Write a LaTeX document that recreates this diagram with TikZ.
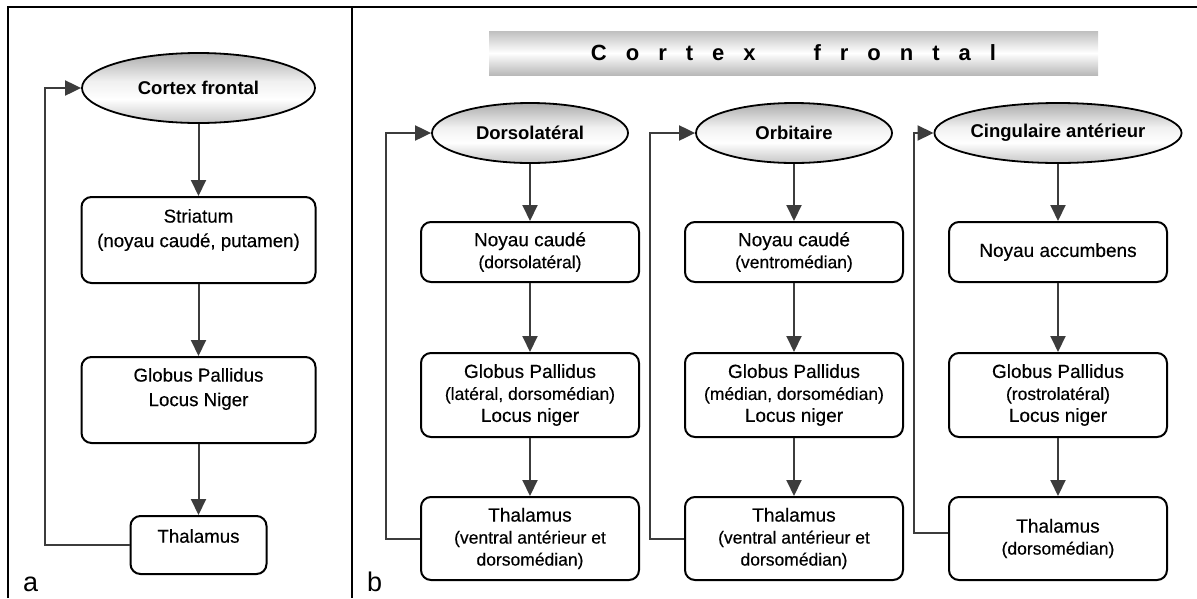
\documentclass[tikz,border=0pt]{standalone}
\usepackage{fontspec}
\setmainfont{Liberation Sans}
\newfontfamily\boxfont{Liberation Sans}[FakeBold=0.35]
\usetikzlibrary{arrows.meta,shapes.geometric,calc}
\definecolor{linegray}{HTML}{3C3C3C}
\pgfdeclareverticalshading{ellshade}{100bp}{color(0bp)=(gray!45); color(25bp)=(gray!45); color(42bp)=(white); color(55bp)=(gray!12); color(75bp)=(gray!65); color(100bp)=(gray!65)}
\newcommand{\mainfs}{\boxfont\fontsize{19}{22}\selectfont}
\newcommand{\subfs}{\boxfont\fontsize{17.5}{22}\selectfont}
\newcommand{\afs}{\boxfont\fontsize{18.7}{24.5}\selectfont}
\newcommand{\lsp}{\hspace{19pt}}
\tikzset{
  boxnode/.style={draw=black, line width=2pt, rounded corners=10pt, fill=white, inner sep=0pt, align=center, font=\mainfs},
  ellnode/.style={ellipse, draw=black, line width=1.8pt, shade, shading=ellshade, inner sep=0pt, font=\bfseries\fontsize{18.5}{22}\selectfont},
  arr/.style={draw=linegray, line width=2pt, -{Triangle[length=16pt,width=15pt]}},
  alabel/.style={align=center, font=\afs},
  panellabel/.style={anchor=base west, inner sep=0pt, font=\fontsize{27}{30}\selectfont}
}
\begin{document}
\begin{tikzpicture}[x=1pt,y=-1pt]
\useasboundingbox (0,0) rectangle (1197,598);
% frame
\draw[line width=2.2pt] (8,598) -- (8,7) -- (1197,7);
\draw[line width=2.2pt] (352,7) -- (352,598);
\node[panellabel] (la) at (23,591) {a};
\node[panellabel] (lb) at (367,591) {b};

% ---------- panel a ----------
\node[ellnode, minimum width=233pt, minimum height=70pt] (aE) at (198.5,88) {Cortex frontal};
\node[boxnode, minimum width=234pt, minimum height=86pt,
  label={[name=aSt, alabel, yshift=10pt]center:Striatum\\(noyau caudé, putamen)}] (aS) at (198.5,240) {};
\node[boxnode, minimum width=234pt, minimum height=86pt,
  label={[name=aGt, alabel, yshift=11pt]center:Globus Pallidus\\Locus Niger}] (aG) at (198.5,400) {};
\node[boxnode, minimum width=136pt, minimum height=58pt,
  label={[name=aTt, alabel, yshift=9pt]center:Thalamus}] (aT) at (198.5,545) {};
\coordinate (fa) at (45,0);
\draw[arr] (aE) -- (aS);
\draw[arr] (aS) -- (aG);
\draw[arr] (aG) -- (aT);
\draw[arr] (aT.west) -- (aT.west -| fa) -- (aE.west -| fa) -- (aE.west);

% ---------- panel b ----------
\node[minimum width=609pt, minimum height=44pt, inner sep=0pt,
  top color=gray!50, bottom color=gray!55, middle color=white,
  font=\bfseries\fontsize{22}{26}\selectfont] (title) at (793.5,53)
  {C\lsp o\lsp r\lsp t\lsp e\lsp x\hspace{58pt}f\lsp r\lsp o\lsp n\lsp t\lsp a\lsp l};

% column 1
\node[ellnode, minimum width=196pt, minimum height=60pt] (E1) at (530,133) {Dorsolatéral};
\node[boxnode, minimum width=218pt, minimum height=60pt] (N1) at (530,252) {Noyau caudé\\{\subfs (dorsolatéral)}};
\node[boxnode, minimum width=218pt, minimum height=84pt] (G1) at (530,395) {Globus Pallidus\\{\subfs (latéral, dorsomédian)}\\Locus niger};
\node[boxnode, minimum width=218pt, minimum height=83pt] (T1) at (530,538.5) {Thalamus\\{\subfs (ventral antérieur et}\\{\subfs dorsomédian)}};
\coordinate (f1) at (386,0);
\draw[arr] (E1) -- (N1);
\draw[arr] (N1) -- (G1);
\draw[arr] (G1) -- (T1);
\draw[arr] (T1.west) -- (T1.west -| f1) -- (E1.west -| f1) -- (E1.west);

% column 2
\node[ellnode, minimum width=196pt, minimum height=60pt] (E2) at (794,133) {Orbitaire};
\node[boxnode, minimum width=218pt, minimum height=60pt] (N2) at (794,252) {Noyau caudé\\{\subfs (ventromédian)}};
\node[boxnode, minimum width=218pt, minimum height=84pt] (G2) at (794,395) {Globus Pallidus\\{\subfs (médian, dorsomédian)}\\Locus niger};
\node[boxnode, minimum width=218pt, minimum height=83pt] (T2) at (794,538.5) {Thalamus\\{\subfs (ventral antérieur et}\\{\subfs dorsomédian)}};
\coordinate (f2) at (650,0);
\draw[arr] (E2) -- (N2);
\draw[arr] (N2) -- (G2);
\draw[arr] (G2) -- (T2);
\draw[arr] (T2.west) -- (T2.west -| f2) -- (E2.west -| f2) -- (E2.west);

% column 3
\node[ellnode, minimum width=196pt, minimum height=60pt] (E3) at (1058,133) {Cingulaire antérieur};
\node[boxnode, minimum width=218pt, minimum height=60pt] (N3) at (1058,252) {Noyau accumbens};
\node[boxnode, minimum width=218pt, minimum height=84pt] (G3) at (1058,395) {Globus Pallidus\\{\subfs (rostrolatéral)}\\Locus niger};
\node[boxnode, minimum width=218pt, minimum height=83pt] (T3) at (1058,538.5) {Thalamus\\{\subfs (dorsomédian)}};
\coordinate (f3) at (914,0);
\coordinate (t3o) at ($(T3.west)+(0,-6)$);
\draw[arr] (E3) -- (N3);
\draw[arr] (N3) -- (G3);
\draw[arr] (G3) -- (T3);
\draw[arr] (t3o) -- (t3o -| f3) -- (E3.west -| f3) -- (E3.west);
\end{tikzpicture}
\end{document}
